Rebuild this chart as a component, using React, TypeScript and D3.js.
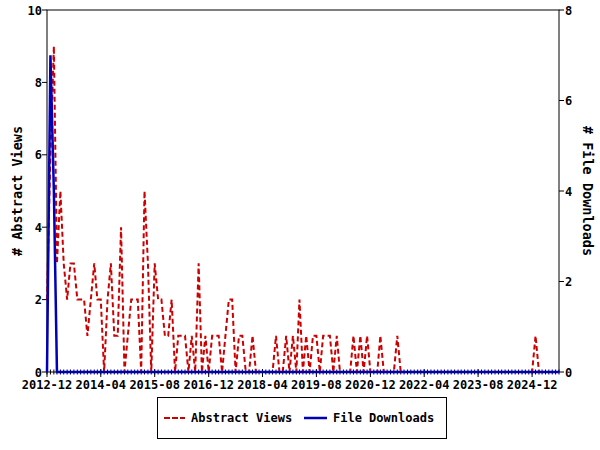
import React from "react";
import * as d3 from "d3";

const startMonth = "2012-12";
const endMonth = "2025-08";

const abstractViews = [
  2, 6, 9, 3, 5, 3, 2, 3, 3, 2,
  2, 2, 1, 2, 3, 2, 2, 0, 2, 3,
  1, 1, 4, 0, 1, 2, 2, 2, 0, 5,
  3, 0, 3, 2, 2, 1, 1, 2, 0, 1,
  1, 1, 0, 1, 0, 3, 0, 1, 0, 1,
  1, 1, 0, 1, 2, 2, 0, 1, 1, 0,
  0, 1, 0, 0, 0, 0, 0, 0, 1, 0,
  0, 1, 0, 1, 0, 2, 0, 1, 0, 1,
  1, 0, 1, 1, 1, 0, 1, 0, 0, 0,
  0, 1, 0, 1, 0, 1, 0, 0, 0, 1,
  0, 0, 0, 0, 1, 0, 0, 0, 0, 0,
  0, 0, 0, 0, 0, 0, 0, 0, 0, 0,
  0, 0, 0, 0, 0, 0, 0, 0, 0, 0,
  0, 0, 0, 0, 0, 0, 0, 0, 0, 0,
  0, 0, 0, 0, 0, 1, 0, 0, 0, 0,
  0, 0, 0,
];

const fileDownloads = [
  0, 7, 4, 0, 0, 0, 0, 0, 0, 0,
  0, 0, 0, 0, 0, 0, 0, 0, 0, 0,
  0, 0, 0, 0, 0, 0, 0, 0, 0, 0,
  0, 0, 0, 0, 0, 0, 0, 0, 0, 0,
  0, 0, 0, 0, 0, 0, 0, 0, 0, 0,
  0, 0, 0, 0, 0, 0, 0, 0, 0, 0,
  0, 0, 0, 0, 0, 0, 0, 0, 0, 0,
  0, 0, 0, 0, 0, 0, 0, 0, 0, 0,
  0, 0, 0, 0, 0, 0, 0, 0, 0, 0,
  0, 0, 0, 0, 0, 0, 0, 0, 0, 0,
  0, 0, 0, 0, 0, 0, 0, 0, 0, 0,
  0, 0, 0, 0, 0, 0, 0, 0, 0, 0,
  0, 0, 0, 0, 0, 0, 0, 0, 0, 0,
  0, 0, 0, 0, 0, 0, 0, 0, 0, 0,
  0, 0, 0, 0, 0, 0, 0, 0, 0, 0,
  0, 0, 0,
];

const xTickLabels = [
  "2012-12", "2014-04", "2015-08", "2016-12", "2018-04",
  "2019-08", "2020-12", "2022-04", "2023-08", "2024-12",
];
const leftTicks = [0, 2, 4, 6, 8, 10];
const rightTicks = [0, 2, 4, 6, 8];

const parseMonth = d3.timeParse("%Y-%m");
const FONT = "'DejaVu Sans Mono', monospace";

export default function App() {
  const W = 600, H = 450;
  const m = { left: 47, right: 559, top: 10, bottom: 372 };
  const months = d3.timeMonth.range(parseMonth(startMonth)!, d3.timeMonth.offset(parseMonth(endMonth)!, 1));
  const x = d3.scaleTime().domain([months[0], months[months.length - 1]]).range([m.left, m.right]);
  const yL = d3.scaleLinear().domain([0, 10]).range([m.bottom, m.top]);
  const yR = d3.scaleLinear().domain([0, 8]).range([m.bottom, m.top]);

  const viewsLine = d3.line<number>().x((_, i) => x(months[i])).y((d) => yL(d))(abstractViews) || "";
  const dlLine = d3.line<number>().x((_, i) => x(months[i])).y((d) => yR(d))(fileDownloads) || "";

  const majorDates = xTickLabels.map((s) => parseMonth(s)!);

  const red = "#cc0000";
  const blue = "#0000b8";

  return (
    <svg width={W} height={H} style={{ position: "absolute", left: 0, top: 0, background: "#fff" }}
      fontFamily={FONT} fontWeight="bold">
      <rect x={0} y={0} width={W} height={H} fill="#fff" />
      <rect x={m.left} y={m.top} width={m.right - m.left} height={m.bottom - m.top} fill="none" stroke="#000" strokeWidth={1} />
      {months.map((d, i) => (
        <line key={"mt" + i} x1={x(d)} x2={x(d)} y1={m.bottom - 2.5} y2={m.bottom + 2.5} stroke="#000" strokeWidth={1} />
      ))}
      {majorDates.map((d, i) => (
        <g key={"xt" + i}>
          <line x1={x(d)} x2={x(d)} y1={m.bottom - 3} y2={m.bottom + 5} stroke="#000" strokeWidth={1} />
          <text x={x(d)} y={389} textAnchor="middle" fontSize={12} fill="#000">{xTickLabels[i]}</text>
        </g>
      ))}
      {leftTicks.map((t) => (
        <g key={"lt" + t}>
          <line x1={m.left - 5} x2={m.left} y1={yL(t)} y2={yL(t)} stroke="#000" />
          <text x={42} y={yL(t) + 4.5} textAnchor="end" fontSize={12} fill="#000">{t}</text>
        </g>
      ))}
      {rightTicks.map((t) => (
        <g key={"rt" + t}>
          <line x1={m.right} x2={m.right + 5} y1={yR(t)} y2={yR(t)} stroke="#000" />
          <text x={565} y={yR(t) + 4.5} textAnchor="start" fontSize={12} fill="#000">{t}</text>
        </g>
      ))}
      <text transform={`translate(22,${(m.top + m.bottom) / 2}) rotate(-90)`} textAnchor="middle" fontSize={13.5} fill="#000">
        # Abstract Views
      </text>
      <text transform={`translate(583,${(m.top + m.bottom) / 2}) rotate(90)`} textAnchor="middle" fontSize={13.5} fill="#000">
        # File Downloads
      </text>
      <path d={viewsLine} fill="none" stroke={red} strokeWidth={2} strokeDasharray="5,3" />
      <path d={dlLine} fill="none" stroke={blue} strokeWidth={2.5} />
      <rect x={157.5} y={397.5} width={289} height={41} fill="#fff" stroke="#000" strokeWidth={1} />
      <line x1={164} x2={185} y1={418} y2={418} stroke={red} strokeWidth={2} strokeDasharray="6,2" />
      <text x={191} y={422} fontSize={12} fill="#000">Abstract Views</text>
      <line x1={304} x2={327} y1={418} y2={418} stroke={blue} strokeWidth={2.5} />
      <text x={333} y={422} fontSize={12} fill="#000">File Downloads</text>
    </svg>
  );
}
